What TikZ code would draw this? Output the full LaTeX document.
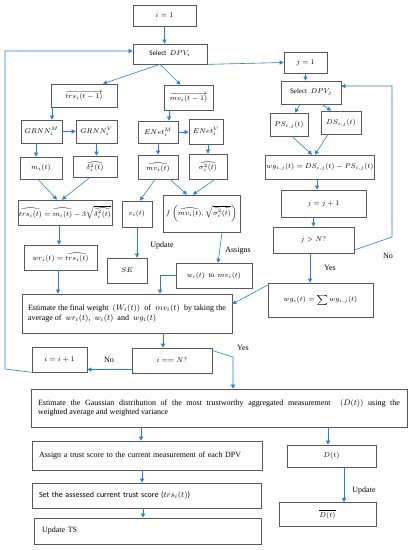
\documentclass[tikz,border=0pt]{standalone}
\usepackage{amsmath}
\usepackage{amssymb}
\usepackage{fontspec}
\setmainfont{Liberation Serif}
\newfontfamily\carlito{Carlito}
\usetikzlibrary{arrows.meta}
\definecolor{boxgray}{RGB}{89,89,89}
\definecolor{arrblue}{RGB}{41,128,214}
\tikzset{box/.style = {draw = boxgray, line width = 0.7pt, inner sep = 1pt, font = \scriptsize}}
\tikzset{txtbox/.style = {box, align = left, inner xsep = 6pt, font = \footnotesize}}
\tikzset{arr/.style = {draw = arrblue, line width = 0.6pt, -{Triangle[length = 4pt, width = 4pt]}}}
\tikzset{lbl/.style = {font = \footnotesize}}

\begin{document}
\begin{tikzpicture}[x = 1pt, y = -1pt]
      \useasboundingbox (0, 0) rectangle (411, 550);

      \node [box, minimum width = 63, minimum height = 21] (i1) at (164.5, 15.5) {\carlito $i=1$};
      \node [box, minimum width = 74, minimum height = 20] (sel) at (170, 54) {\carlito Select \ $DPV_i$};

      \node [box, minimum width = 66, minimum height = 23] (trsp) at (84, 95.5) {$\overrightarrow{trs_i(t-1)}$};
      \node [box, minimum width = 49, minimum height = 25] (mvp) at (188.5, 97.5) {$\overrightarrow{mv_i(t-1)}$};

      \node [box, minimum width = 41, minimum height = 23] (grm) at (41.5, 131.5) {$GRNN_i^M$};
      \node [box, minimum width = 41, minimum height = 23] (grv) at (96.5, 131.5) {$GRNN_i^V$};
      \node [box, minimum width = 40, minimum height = 22] (enm) at (158, 132) {$ENet_i^M$};
      \node [box, minimum width = 34, minimum height = 25] (env) at (206, 131.5) {$ENet_i^V$};

      \node [box, minimum width = 42, minimum height = 22] (mi) at (41, 168) {$m_i(t)$};
      \node [box, minimum width = 44, minimum height = 21] (dl) at (95, 166.5) {$\widehat{\delta_i^2(t)}$};
      \node [box, minimum width = 40, minimum height = 24] (mvh) at (158, 167) {$\widehat{mv_i(t)}$};
      \node [box, minimum width = 38, minimum height = 25] (sgh) at (208, 166.5) {$\widehat{\sigma_i^2(t)}$};

      \node [box, minimum width = 94, minimum height = 25] (trsh) at (65, 212.5) {$\widehat{trs_i(t)} = \widehat{m_i(t)} - 3\sqrt{\widehat{\delta_i^2(t)}}$};
      \node [box, minimum width = 30, minimum height = 26] (eps) at (137, 214) {$\varepsilon_i(t)$};
      \node [box, minimum width = 77, minimum height = 37] (fb) at (201.5, 213.5) {$f\left(\widehat{mv_i(t)}, \sqrt{\widehat{\sigma_i^2(t)}}\right)$};

      \node [box, minimum width = 73, minimum height = 25] (wr) at (60.5, 257.5) {$wr_i(t) = \widehat{trs_i(t)}$};
      \node [box, minimum width = 40, minimum height = 25] (se) at (127, 270.5) {$SE$};
      \node [box, minimum width = 76, minimum height = 25] (wmv) at (214, 275.5) {$w_i(t)$ \ to \ $mv_i(t)$};
      \node [lbl] (upd1) at (162, 246) {Update};
      \node [lbl] (asn) at (238, 251) {Assigns};

      \node [box, minimum width = 43, minimum height = 21] (j1) at (305.5, 62.5) {$j=1$};
      \node [box, minimum width = 60, minimum height = 23] (selj) at (311, 92.5) {Select \ $DPV_j$};
      \node [box, minimum width = 38, minimum height = 23] (ps) at (289, 124.5) {$PS_{i,j}(t)$};
      \node [box, minimum width = 40, minimum height = 23] (ds) at (341, 122.5) {$DS_{i,j}(t)$};
      \node [box, minimum width = 108, minimum height = 24] (wgij) at (320, 167) {$wg_{i,j}(t) = DS_{i,j}(t) - PS_{i,j}(t)$};
      \node [box, minimum width = 85, minimum height = 27] (jinc) at (323.5, 203.5) {$j = j + 1$};
      \node [box, minimum width = 81, minimum height = 26] (jn) at (313.5, 240) {$j > N?$};
      \node [box, minimum width = 105, minimum height = 34] (wg) at (320.5, 300) {$wg_i(t) = \displaystyle\sum wg_{i,j}(t)$};
      \node [lbl] (no1) at (388, 256) {No};
      \node [lbl] (yes1) at (330, 268) {Yes};

      \node [txtbox, align = justify, text width = 198pt, minimum height = 39] (est) at (127, 313.5) {Estimate the final weight \ $\left(W_i(t)\right)$ \ of \ $mv_i(t)$ \ by taking the\linebreak[4] average of \ $wr_i(t)$, \ $w_i(t)$ \ and \ $wg_i(t)$};

      \node [box, minimum width = 55, minimum height = 25] (iinc) at (59.5, 359.5) {$i = i + 1$};
      \node [box, minimum width = 80, minimum height = 25] (ieq) at (172, 360.5) {$i == N?$};
      \node [lbl] (no2) at (109, 360) {No};
      \node [lbl] (yes2) at (243, 348) {Yes};

      \node [txtbox, align = justify, inner xsep = 7pt, text width = 362pt, minimum height = 38] (gau) at (219, 408) {Estimate the Gaussian distribution of the most trustworthy aggregated measurement \ $\left(D(t)\right)$ using the\linebreak[4] weighted average and weighted variance};

      \node [txtbox, inner xsep = 7pt, text width = 216pt, minimum height = 29] (asg) at (147, 455.5) {Assign a trust score to the current measurement of each DPV};
      \node [box, minimum width = 89, minimum height = 22] (dt) at (331.5, 456) {$D(t)$};
      \node [txtbox, inner xsep = 7pt, text width = 215pt, minimum height = 25] (set) at (146.5, 495.5) {\carlito Set the assessed current trust score ($trs_i(t)$)};
      \node [txtbox, inner xsep = 8pt, text width = 211pt, minimum height = 26] (uts) at (147.5, 531) {Update TS};
      \node [box, minimum width = 97, minimum height = 24] (dbar) at (327.5, 514.5) {$\overline{D(t)}$};
      \node [lbl] (upd2) at (364, 491) {Update};

      \coordinate (nj1) at (392, 237);
      \coordinate (nj2) at (392, 86);
      \coordinate (li1) at (5, 369);
      \coordinate (li2) at (5, 51);
      \coordinate (yi) at (233, 357);

      \draw [arr] (i1.south) -- (i1.south |- sel.north);
      \draw [arr] ([xshift = -10pt]sel.south) -- ([xshift = 19pt]trsp.north);
      \draw [arr] ([xshift = -10pt]sel.south) -- ([xshift = -8pt]mvp.north);
      \draw [arr] (sel.south east) -- (j1.west);

      \draw [arr] ([xshift = 10.5pt]grm.north |- trsp.south) -- ([xshift = 10.5pt]grm.north);
      \draw [arr] (grm.east) -- (grv.west);
      \draw [arr] ([xshift = -5.5pt]grm.south) -- ([xshift = -5.5pt]grm.south |- mi.north);
      \draw [arr] (grv.south) -- (grv.south |- dl.north);
      \draw [arr] ([xshift = 11pt]enm.north |- mvp.south) -- ([xshift = 11pt]enm.north);
      \draw [arr] (enm.east) -- (env.west |- enm.east);
      \draw [arr] (enm.south) -- (mvh.north);
      \draw [arr] ([xshift = 2pt]env.south) -- ([xshift = 2pt]env.south |- sgh.north);

      \draw [arr] ([xshift = -3pt]mi.south) -- ([xshift = -8pt]trsh.north);
      \draw [arr] ([xshift = -5pt]dl.south) -- ([xshift = -3pt]trsh.north);
      \draw [arr] ([xshift = -3pt]mvh.south) -- ([xshift = 3pt]eps.north);
      \draw [arr] ([xshift = 12pt]mvh.south) -- ([xshift = -14.5pt]fb.north);
      \draw [arr] ([xshift = 7pt]sgh.south) -- ([xshift = -8.5pt]fb.north);
      \draw [arr] ([xshift = 20.5pt]fb.south) -- ([xshift = 4pt]wmv.north);

      \draw [arr] ([xshift = -6pt]trsh.south) -- ([xshift = -6pt]trsh.south |- wr.north);
      \draw [arr] (eps.south) -- (eps.south |- se.north);
      \draw [arr] ([xshift = -2.5pt]wr.south) -- ([xshift = -2.5pt]wr.south |- est.north);
      \draw [arr] (wmv.west) -| ([xshift = 33pt]est.north);
      \draw [arr] ([yshift = 15pt]wg.west) -- ([yshift = 9.5pt]est.east);

      \draw [arr] (j1.south) -- (j1.south |- selj.north);
      \draw [arr] ([xshift = -11pt]selj.south) -- ([xshift = 6pt]ps.north);
      \draw [arr] ([xshift = 11pt]selj.south) -- ([xshift = -10pt]ds.north);
      \draw [arr] ([xshift = 3pt]ps.south) -- ([xshift = -8pt]wgij.north);
      \draw [arr] ([xshift = -13pt]ds.south) -- ([xshift = -5pt]wgij.north);
      \draw [arr] ([xshift = -3pt]wgij.south) -- ([xshift = -3pt]wgij.south |- jinc.north);
      \draw [arr] (jn.north |- jinc.south) -- (jn.north);
      \draw [arr] ([xshift = -3.5pt]jn.south) -- ([xshift = -3.5pt]jn.south |- wg.north);
      \draw [arr] ([yshift = -10pt]jn.east) -- (nj1) -- (nj2) -- (nj2 -| selj.east);

      \draw [arr] ([xshift = 36pt]est.south) -- ([xshift = 36pt]est.south |- ieq.north);
      \draw [arr] ([yshift = -9pt]ieq.west) -- ([yshift = -9pt]ieq.west -| iinc.east);
      \draw [arr] (iinc.south west) -- (li1) -- (li2) -- (li2 -| sel.west);
      \draw [arr] ([yshift = 10pt]ieq.east) -- (yi) -- (yi |- gau.north);

      \draw [arr] ([xshift = -6pt]asg.north |- gau.south) -- ([xshift = -6pt]asg.north);
      \draw [arr] ([xshift = -3.5pt]dt.north |- gau.south) -- ([xshift = -3.5pt]dt.north);
      \draw [arr] ([xshift = -5pt]asg.south) -- ([xshift = -5pt]asg.south |- set.north);
      \draw [arr] ([xshift = -3.5pt]set.south) -- ([xshift = -3.5pt]set.south |- uts.north);
      \draw [arr] ([xshift = 12.5pt]dt.south) -- ([xshift = 12.5pt]dt.south |- dbar.north);
    \end{tikzpicture}
\end{document}
